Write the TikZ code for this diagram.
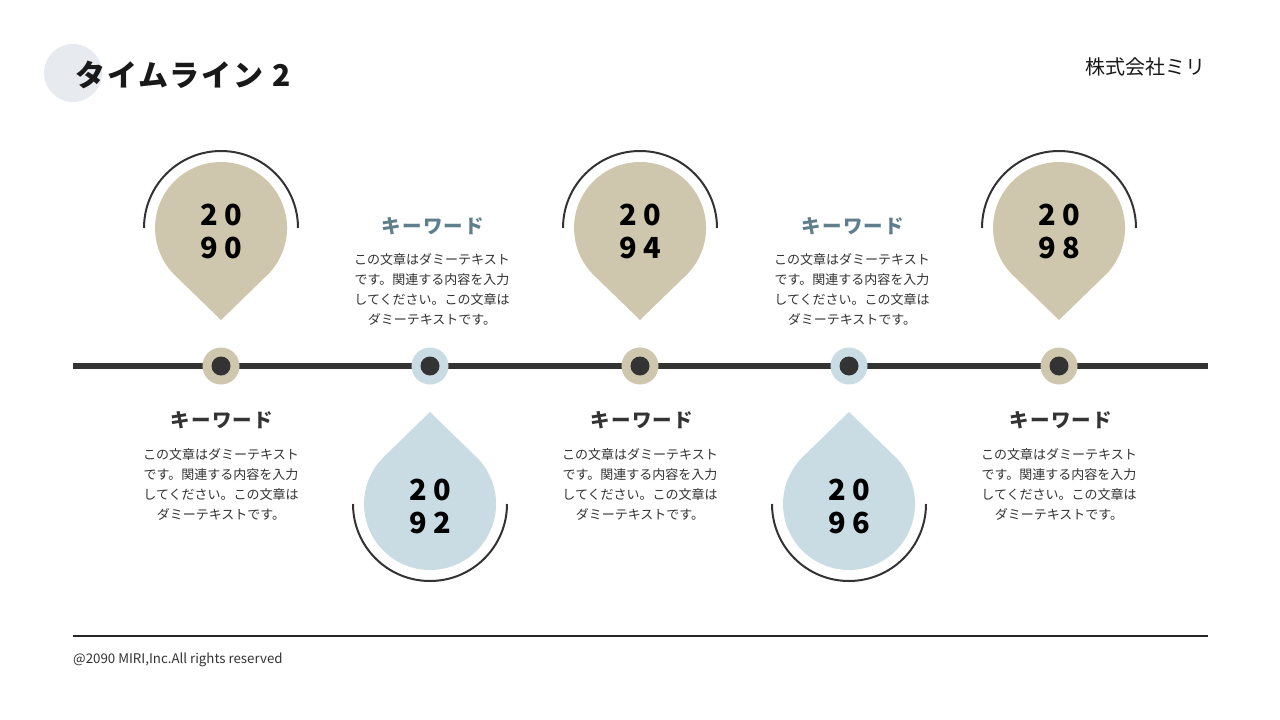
\documentclass[tikz,border=0pt]{standalone}
\usepackage{fontspec}
\setmainfont{Noto Sans CJK JP}
\usetikzlibrary{positioning}

\definecolor{sand}{HTML}{CEC7AE}
\definecolor{mist}{HTML}{C9DCE4}
\definecolor{ink}{HTML}{333333}
\definecolor{slate}{HTML}{5E7F8B}
\definecolor{haze}{HTML}{E7EBF0}

\tikzset{
  ring/.style={draw=ink, line width=2pt},
  pinup/.pic={
    \fill[pic actions] (45.8,47.5) -- (0,92) -- (-45.8,47.5) arc[start angle=134, end angle=406, radius=66] -- cycle;
    \draw[ring] (77,0) arc[start angle=0, end angle=-180, radius=77];
  },
  pindown/.pic={
    \fill[pic actions] (45.8,-47.5) -- (0,-92) -- (-45.8,-47.5) arc[start angle=226, end angle=-46, radius=66] -- cycle;
    \draw[ring] (77,0) arc[start angle=0, end angle=180, radius=77];
  }
}

\begin{document}
\begin{tikzpicture}[x=1pt, y=-1pt,
  year/.style={font=\bfseries\fontsize{29}{33}\selectfont, text=black, align=center, inner sep=0pt},
  keyword/.style={font=\bfseries\fontsize{19.5}{22}\selectfont\addfontfeature{LetterSpace=6}, inner sep=0pt},
  body/.style={font=\fontsize{13}{20}\selectfont, text=ink, align=center, inner sep=0pt},
  dotout/.style={circle, minimum size=37pt, inner sep=0pt},
  dotin/.style={circle, fill=ink, minimum size=19pt, inner sep=0pt}]
\fill[white] (0,0) rectangle (1280,720);
\useasboundingbox (0,0) rectangle (1280,720);

% header
\fill[haze] (73,73) circle (29);
\node[anchor=west, font=\bfseries\fontsize{30}{34}\selectfont\addfontfeature{LetterSpace=7}, text=black!90, inner sep=0pt] (title) at (75,75) {タイムライン 2};
\node[anchor=east, font=\fontsize{20}{24}\selectfont, text=black!90, inner sep=0pt] (company) at (1206,67) {株式会社ミリ};

% timeline
\coordinate (lineL) at (73,366);
\coordinate (lineR) at (1208,366);
\draw[ink, line width=6pt] (lineL) -- (lineR);

\node[dotout, fill=sand] (d1) at (221,366) {};
\node[dotout, fill=mist] (d2) at (430,366) {};
\node[dotout, fill=sand] (d3) at (640,366) {};
\node[dotout, fill=mist] (d4) at (849,366) {};
\node[dotout, fill=sand] (d5) at (1059,366) {};
\node[dotin] at (d1) {};
\node[dotin] at (d2) {};
\node[dotin] at (d3) {};
\node[dotin] at (d4) {};
\node[dotin] at (d5) {};

% pins
\pic[fill=sand] at (221,228) {pinup};
\pic[fill=mist] at (430,504) {pindown};
\pic[fill=sand] at (640,228) {pinup};
\pic[fill=mist] at (849,504) {pindown};
\pic[fill=sand] at (1059,228) {pinup};

\node[year] (y2090) at (221,231) {2 0\\9 0};
\node[year] (y2092) at (430,506) {2 0\\9 2};
\node[year] (y2094) at (640,231) {2 0\\9 4};
\node[year] (y2096) at (849,506) {2 0\\9 6};
\node[year] (y2098) at (1059,231) {2 0\\9 8};

% keywords below the line
\node[keyword, text=ink] (k1) at (222,420) {キーワード};
\node[body] (t1) at (221,484) {この文章はダミーテキスト\\です。関連する内容を入力\\してください。この文章は\\ダミーテキストです。};
\node[keyword, text=ink] (k3) at (642,420) {キーワード};
\node[body] (t3) at (640,484) {この文章はダミーテキスト\\です。関連する内容を入力\\してください。この文章は\\ダミーテキストです。};
\node[keyword, text=ink] (k5) at (1061,420) {キーワード};
\node[body] (t5) at (1059,484) {この文章はダミーテキスト\\です。関連する内容を入力\\してください。この文章は\\ダミーテキストです。};

% keywords above the line
\node[keyword, text=slate] (k2) at (433,226) {キーワード};
\node[body] (t2) at (432,289) {この文章はダミーテキスト\\です。関連する内容を入力\\してください。この文章は\\ダミーテキストです。};
\node[keyword, text=slate] (k4) at (853,226) {キーワード};
\node[body] (t4) at (852,289) {この文章はダミーテキスト\\です。関連する内容を入力\\してください。この文章は\\ダミーテキストです。};

% footer
\coordinate (footL) at (73,636);
\coordinate (footR) at (1208,636);
\draw[black!85, line width=1.5pt] (footL) -- (footR);
\node[anchor=west, font=\fontsize{13.3}{16}\selectfont, text=ink, inner sep=0pt] (copy) at (73,660) {@2090 MIRI,Inc.All rights reserved};
\end{tikzpicture}
\end{document}
